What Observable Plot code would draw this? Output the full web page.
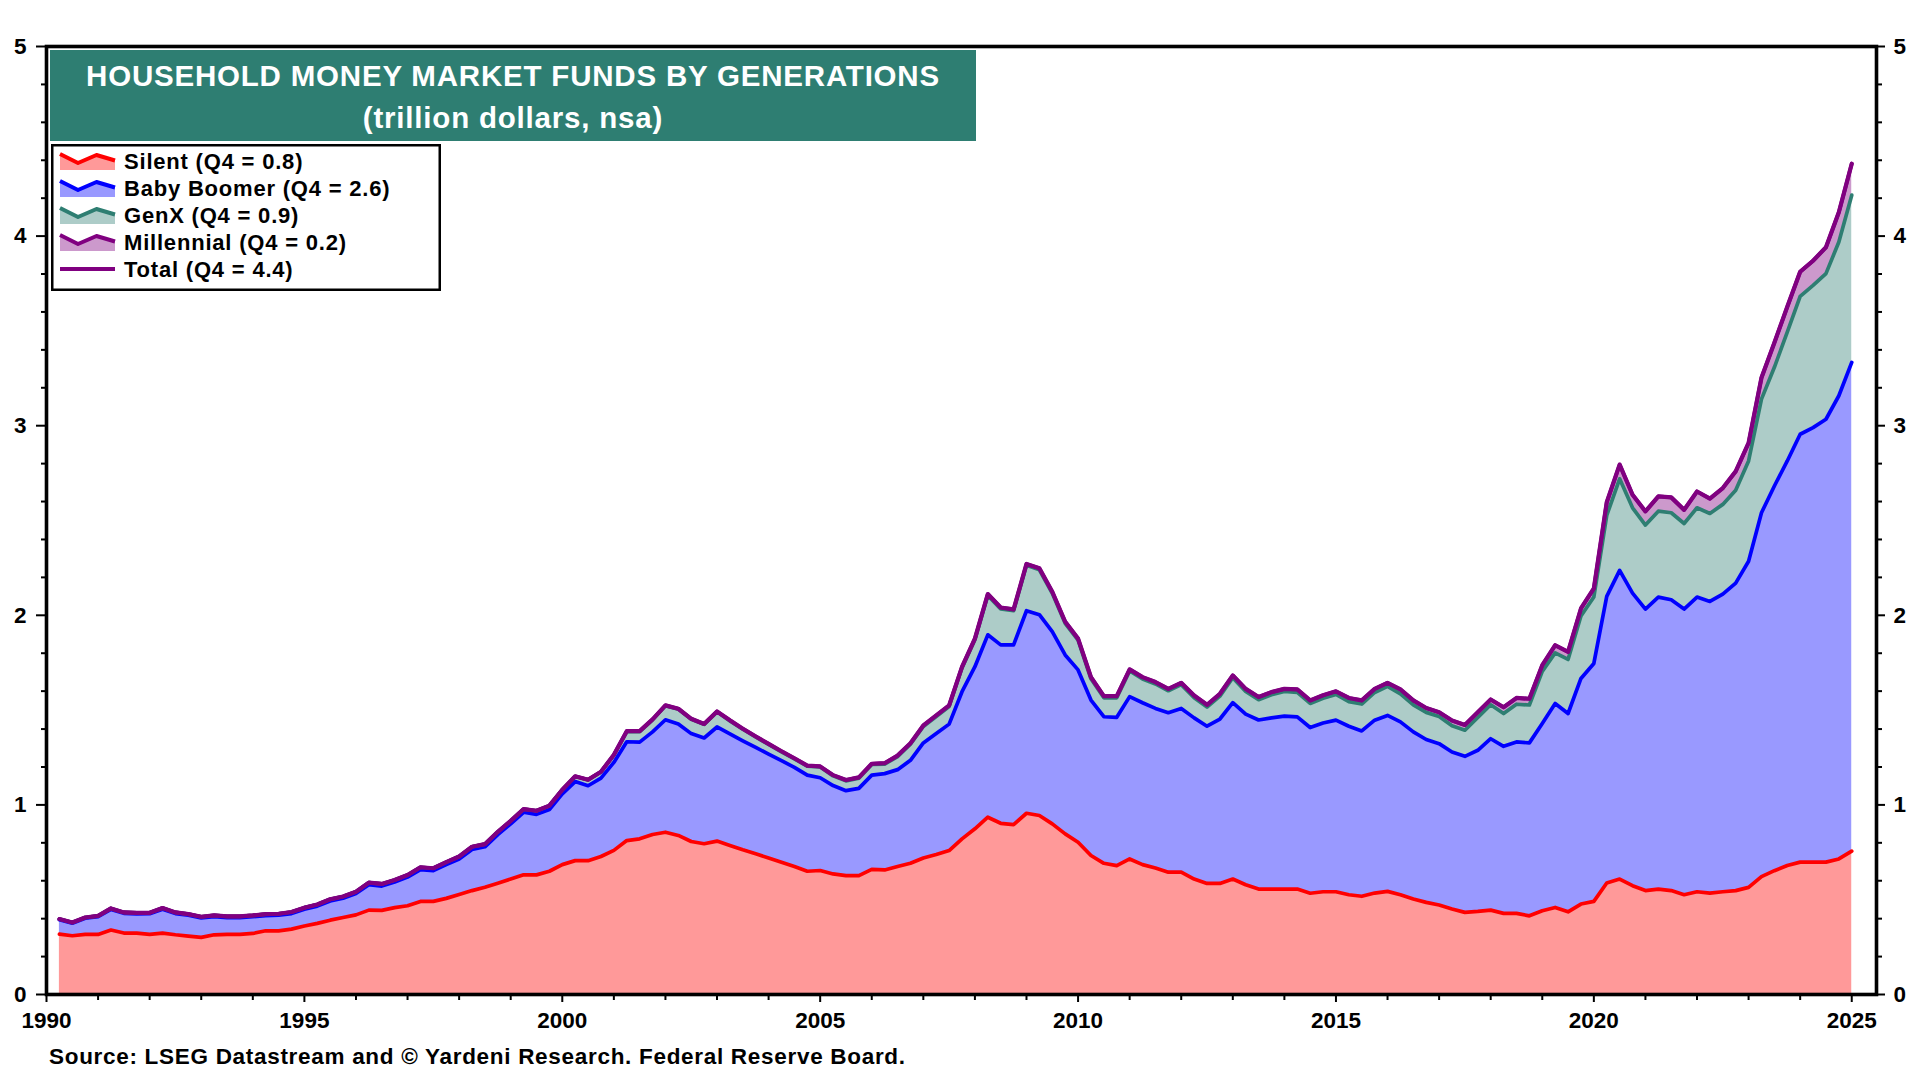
<!DOCTYPE html>
<html>
<head>
<meta charset="utf-8">
<script src="https://cdn.jsdelivr.net/npm/d3@7"></script>
<script src="https://cdn.jsdelivr.net/npm/@observablehq/plot@0.6"></script>
<style>
  html, body { margin: 0; padding: 0; background: #fff; }
  #wrap { position: relative; width: 1920px; height: 1080px; overflow: hidden;
          font-family: "Liberation Sans", Arial, sans-serif; font-weight: bold; }
  #chart { position: absolute; left: 0; top: 0; }
  #title { position: absolute; left: 50px; top: 50px; width: 926px; height: 91px;
           background: #2E7E72; color: #fff; text-align: center; font-size: 29.5px;
           letter-spacing: 0.8px; line-height: 42px; padding-top: 4.5px; box-sizing: border-box; white-space: nowrap; }
  #legend { position: absolute; left: 51px; top: 144px; }
  #source { position: absolute; left: 49px; top: 1046px; font-size: 22.5px; letter-spacing: 0.7px; line-height: 22px; color: #000; white-space: nowrap; }
</style>
</head>
<body>
<div id="wrap">
  <div id="chart"></div>
  <div id="title">HOUSEHOLD MONEY MARKET FUNDS BY GENERATIONS<br>(trillion dollars, nsa)</div>
  <div id="legend"></div>
  <div id="source">Source: LSEG Datastream and © Yardeni Research. Federal Reserve Board.</div>
</div>
<script>
// Quarterly values, trillion dollars, 1990Q1 .. 2024Q4 (one row per year: Q1..Q4)
const firstYear = 1990;

const silent = [
  .318, .310, .317, .317,
  .340, .324, .324, .317,
  .324, .315, .308, .301,
  .315, .317, .317, .322,
  .336, .336, .345, .361,
  .375, .392, .406, .420,
  .445, .444, .458, .468,
  .491, .491, .507, .527,
  .548, .566, .587, .609,
  .631, .631, .650, .685,
  .706, .706, .728, .760,
  .812, .821, .844, .856,
  .839, .807, .795, .809,
  .786, .763, .742, .720,
  .698, .675, .650, .654,
  .636, .627, .627, .660,
  .657, .675, .692, .720,
  .738, .759, .821, .874,
  .935, .903, .896, .956,
  .944, .900, .847, .803,
  .733, .692, .680, .715,
  .685, .667, .645, .645,
  .609, .586, .586, .609,
  .579, .556, .556, .556,
  .556, .534, .542, .542,
  .526, .518, .535, .544,
  .526, .504, .486, .472,
  .451, .433, .438, .445,
  .428, .428, .415, .442,
  .459, .436, .477, .491,
  .588, .609, .574, .548,
  .556, .548, .526, .542,
  .535, .542, .548, .565,
  .622, .653, .680, .698,
  .698, .698, .715, .756
];

const babyBoomer = [
  .076, .066, .085, .094,
  .109, .104, .101, .109,
  .126, .112, .110, .103,
  .095, .088, .088, .088,
  .080, .082, .082, .089,
  .091, .101, .102, .113,
  .134, .128, .135, .151,
  .167, .162, .178, .188,
  .217, .213, .256, .291,
  .330, .319, .326, .373,
  .417, .395, .413, .464,
  .521, .510, .541, .593,
  .588, .569, .558, .602,
  .588, .575, .561, .548,
  .535, .523, .507, .489,
  .466, .448, .460, .497,
  .508, .511, .543, .607,
  .638, .667, .776, .855,
  .962, .941, .948, 1.068,
  1.059, 1.014, .944, .909,
  .820, .773, .782, .856,
  .854, .842, .841, .864,
  .850, .829, .867, .930,
  .900, .892, .903, .912,
  .908, .874, .890, .905,
  .889, .872, .912, .928,
  .912, .881, .859, .851,
  .828, .823, .850, .904,
  .881, .904, .912, .987,
  1.076, 1.046, 1.190, 1.255,
  1.512, 1.628, 1.543, 1.485,
  1.540, 1.534, 1.507, 1.554,
  1.538, 1.570, 1.622, 1.720,
  1.919, 2.029, 2.134, 2.257,
  2.292, 2.336, 2.443, 2.578
];

const genX = [
  .004, .004, .004, .004,
  .005, .005, .005, .005,
  .006, .006, .006, .006,
  .007, .007, .007, .007,
  .008, .008, .008, .008,
  .009, .009, .009, .009,
  .011, .011, .011, .011,
  .013, .013, .013, .013,
  .014, .014, .015, .016,
  .017, .019, .020, .022,
  .027, .031, .033, .039,
  .054, .056, .064, .074,
  .078, .076, .072, .080,
  .069, .061, .055, .051,
  .047, .045, .047, .057,
  .051, .052, .054, .056,
  .050, .069, .085, .087,
  .090, .093, .125, .142,
  .208, .190, .180, .240,
  .237, .202, .167, .157,
  .112, .100, .103, .135,
  .125, .129, .116, .125,
  .106, .101, .121, .132,
  .119, .107, .122, .130,
  .129, .127, .130, .136,
  .130, .142, .146, .153,
  .148, .143, .143, .143,
  .138, .138, .173, .179,
  .173, .199, .200, .275,
  .267, .285, .329, .351,
  .427, .483, .450, .443,
  .453, .459, .451, .471,
  .464, .473, .489, .529,
  .599, .626, .679, .727,
  .750, .768, .811, .882
];

const millennial = [
  0, 0, 0, 0,
  0, 0, 0, 0,
  0, 0, 0, 0,
  0, 0, 0, 0,
  0, 0, 0, 0,
  0, 0, 0, 0,
  0, 0, 0, 0,
  0, 0, 0, 0,
  0, 0, 0, 0,
  0, 0, 0, 0,
  .001, .001, .001, .001,
  .002, .002, .002, .002,
  .002, .002, .002, .002,
  .003, .003, .003, .003,
  .003, .003, .003, .003,
  .004, .004, .004, .004,
  .005, .005, .005, .005,
  .006, .006, .006, .006,
  .007, .007, .007, .007,
  .008, .008, .008, .008,
  .009, .009, .009, .009,
  .010, .010, .010, .010,
  .012, .012, .012, .012,
  .014, .014, .014, .014,
  .016, .016, .016, .016,
  .019, .019, .019, .019,
  .023, .023, .023, .023,
  .028, .028, .028, .028,
  .033, .033, .033, .033,
  .040, .040, .040, .045,
  .069, .075, .069, .072,
  .078, .081, .072, .086,
  .078, .086, .100, .095,
  .113, .130, .134, .130,
  .130, .139, .157, .166
];

const seriesNames = ["Silent", "Baby Boomer", "GenX", "Millennial"];
const legendLabels = ["Silent (Q4 = 0.8)", "Baby Boomer (Q4 = 2.6)", "GenX (Q4 = 0.9)", "Millennial (Q4 = 0.2)", "Total (Q4 = 4.4)"];
const fillColors = ["#FF9999", "#9999FF", "#ADCCC8", "#CC99CC"];
const lineColors = ["#FF0000", "#0000FF", "#2E7E72", "#800080"];
const totalColor = "#800080";
const yearTicks = [1990, 1995, 2000, 2005, 2010, 2015, 2020, 2025];

// Quarter positions: each quarter plotted at the end of the quarter (decimal years)
const quarterX = silent.map((_, i) => firstYear + (i + 1) / 4);
const seriesValues = [silent, babyBoomer, genX, millennial];

const long = [];
seriesValues.forEach((vals, s) => {
  vals.forEach((v, i) => long.push({x: quarterX[i], value: v, gen: seriesNames[s], fill: fillColors[s], stroke: lineColors[s]}));
});
const totals = quarterX.map((x, i) => ({x, value: silent[i] + babyBoomer[i] + genX[i] + millennial[i]}));

const majorY = [0, 1, 2, 3, 4, 5];
const minorY = d3.range(1, 25).map(i => i / 5).filter(v => Math.abs(v - Math.round(v)) > 1e-6);
const minorX = d3.range(1990, 2026).filter(y => !yearTicks.includes(y));
const FONT = '"Liberation Sans", Arial, sans-serif';

const chart = Plot.plot({
  width: 1920,
  height: 1040,
  marginLeft: 46,
  marginRight: 44,
  marginTop: 46,
  marginBottom: 46,
  x: {domain: [1990, 2025.48]},
  y: {domain: [0, 5]},
  color: {type: "identity"},
  style: {fontFamily: FONT, fontWeight: "bold", color: "#000", background: "transparent", overflow: "visible"},
  marks: [
    Plot.areaY(long, {x: "x", y: "value", z: "gen", fill: "fill", order: null}),
    Plot.lineY(long, Plot.stackY2({x: "x", y: "value", z: "gen", stroke: "stroke", order: null, strokeWidth: 3.7, strokeLinejoin: "round"})),
    Plot.lineY(totals, {x: "x", y: "value", stroke: totalColor, strokeWidth: 4.2, strokeLinejoin: "round"}),
    Plot.axisY({anchor: "left", ticks: majorY, tickSize: 10, tickPadding: 10, fontSize: 22.5, fontWeight: "bold", tickFormat: "d", label: null, strokeWidth: 2}),
    Plot.axisY({anchor: "left", ticks: minorY, tickSize: 5, tickFormat: () => "", label: null, strokeWidth: 2}),
    Plot.axisY({anchor: "right", ticks: majorY, tickSize: 8, tickPadding: 9, fontSize: 22.5, fontWeight: "bold", tickFormat: "d", label: null, strokeWidth: 2}),
    Plot.axisY({anchor: "right", ticks: minorY, tickSize: 5, tickFormat: () => "", label: null, strokeWidth: 2}),
    Plot.axisX({ticks: yearTicks, tickSize: 8, tickPadding: 10, fontSize: 22.5, fontWeight: "bold", tickFormat: "d", label: null, strokeWidth: 2}),
    Plot.axisX({ticks: minorX, tickSize: 6, tickFormat: () => "", label: null, strokeWidth: 2}),
    Plot.frame({stroke: "#000", strokeWidth: 3.6})
  ]
});
document.getElementById("chart").appendChild(chart);

// Legend (HTML-side SVG)
const lw = 390, lh = 147, rowH = 27;
const ns = "http://www.w3.org/2000/svg";
const lg = d3.select("#legend").append("svg").attr("xmlns", ns).attr("width", lw).attr("height", lh)
  .style("overflow", "visible");
lg.append("rect").attr("x", 1.25).attr("y", 1.25).attr("width", lw - 2.5).attr("height", lh - 2.5)
  .attr("fill", "#fff").attr("stroke", "#000").attr("stroke-width", 2.5);
legendLabels.forEach((lab, i) => {
  const oy = i * rowH;
  const g = lg.append("g").attr("transform", `translate(0,${oy})`);
  if (i < 4) {
    const pts = [[9, 10], [27, 19], [45.5, 11], [64, 16.5]];
    const area = pts.map(p => p.join(",")).join(" ") + " 64,26 9,26";
    g.append("polygon").attr("points", area).attr("fill", fillColors[i]);
    g.append("polyline").attr("points", pts.map(p => p.join(",")).join(" "))
      .attr("fill", "none").attr("stroke", lineColors[i]).attr("stroke-width", 4).attr("stroke-linejoin", "round");
  } else {
    g.append("line").attr("x1", 9).attr("x2", 64).attr("y1", 17).attr("y2", 17)
      .attr("stroke", totalColor).attr("stroke-width", 4);
  }
  g.append("text").attr("x", 73).attr("y", 25).text(lab)
    .attr("font-family", FONT).attr("font-weight", "bold").attr("font-size", 22)
    .attr("letter-spacing", "0.8px").attr("fill", "#000");
});
</script>
</body>
</html>
